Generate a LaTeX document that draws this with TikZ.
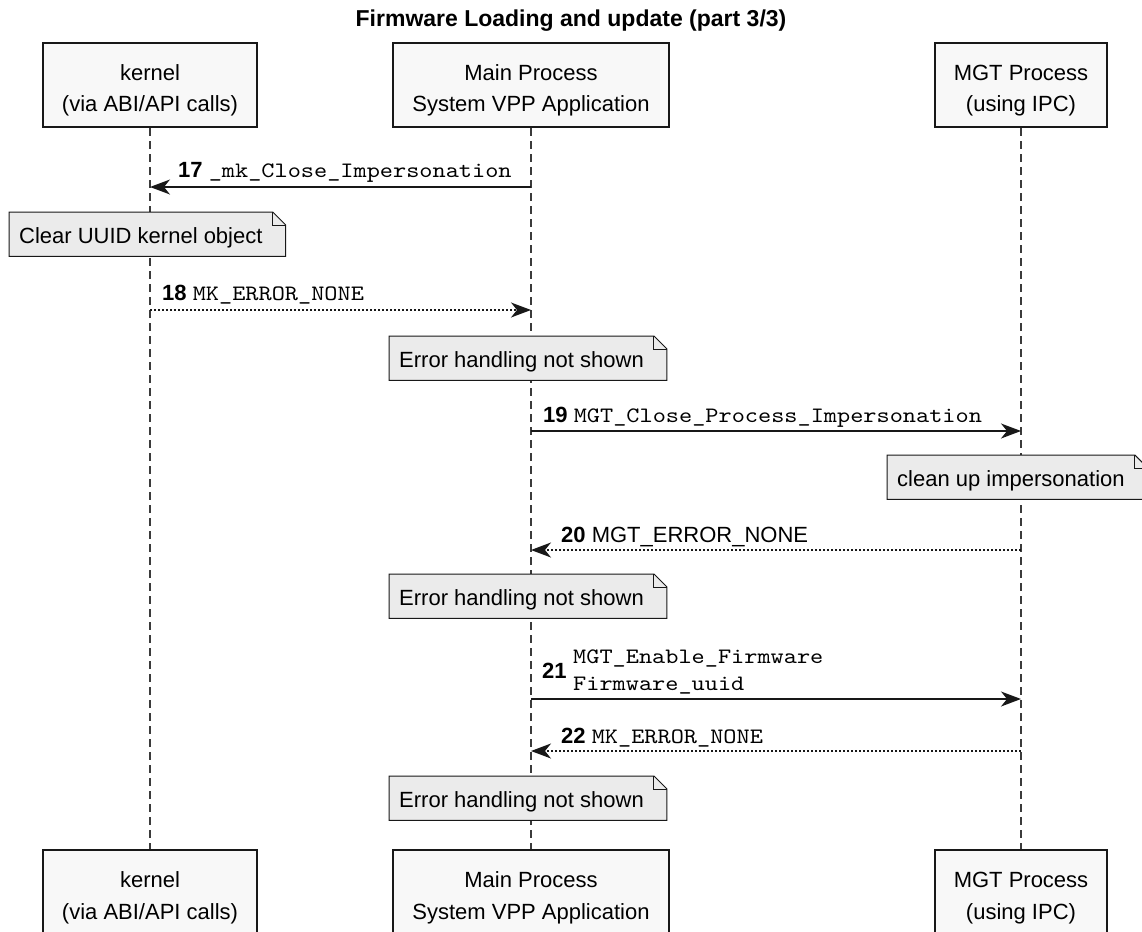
\documentclass[tikz,border=0pt]{standalone}
\usepackage{fontspec}
\setmainfont{Liberation Sans}
\newfontfamily\codefont{lmmono10-regular.otf}[FakeStretch=1.14]
\usetikzlibrary{arrows.meta}

\definecolor{ink}{HTML}{181818}
\definecolor{boxfill}{HTML}{F8F8F8}
\definecolor{notefill}{HTML}{EBEBEB}

\pgfdeclarelayer{lifelines}
\pgfdeclarelayer{notebg}
\pgfsetlayers{lifelines,notebg,main}

% two-line participant label with fixed top and bottom room
\newcommand\ptext[2]{\rule{0pt}{37pt}#1\\#2\rule[-15pt]{0pt}{15pt}}

\tikzset{
  participant/.style={draw=ink, line width=2pt, fill=boxfill, inner xsep=19pt,
    inner ysep=0pt, align=center, font=\fontsize{22}{32}\selectfont},
  lifeline/.style={draw=ink!85, line width=1.2pt, dash pattern=on 8pt off 5pt},
  notebox/.style={anchor=north west, inner xsep=0pt, inner ysep=0pt,
    text height=31pt, text depth=13pt, font=\fontsize{22}{26}\selectfont},
  noteshape/.style={draw=ink, line width=1pt, fill=notefill, line join=miter},
  call/.style={draw=ink, line width=1.5pt,
    -{Stealth[length=20pt,width=15pt,inset=6pt]}},
  reply/.style={call, dash pattern=on 1.8pt off 2.2pt},
  msglabel/.style={anchor=base west, inner sep=0pt, font=\fontsize{22}{26}\selectfont},
  codeline/.style={anchor=base west, inner sep=0pt, font=\fontsize{22}{26}\codefont},
  titletext/.style={anchor=base, inner sep=0pt, font=\fontsize{23}{28}\selectfont\bfseries},
}

% note with a folded top-right corner: name, left, top, text
\newcommand\notenode[4]{%
  \node[notebox] (#1) at (#2,#3) {\hspace*{10pt}#4\hspace*{23pt}};
  \begin{pgfonlayer}{notebg}
    \draw[noteshape] (#1.south west) -- (#1.north west)
      -- ([xshift=-13pt]#1.north east) -- ([yshift=-13pt]#1.north east)
      -- (#1.south east) -- cycle;
    \draw[draw=ink, line width=1pt] ([xshift=-13pt]#1.north east)
      -- ([xshift=-13pt,yshift=-13pt]#1.north east)
      -- ([yshift=-13pt]#1.north east);
  \end{pgfonlayer}}

\begin{document}
\begin{tikzpicture}[x=1pt, y=-1pt]
  \useasboundingbox (0,0) rectangle (1142,931);
  \clip (0,0) rectangle (1142,931);

  \node[titletext] (title) at (571,27) {Firmware Loading and update (part 3/3)};

  % participants, top and bottom
  \node[participant] (ktop) at (150,85) {\ptext{kernel}{(via ABI/API calls)}};
  \node[participant] (mtop) at (531,85) {\ptext{Main Process}{System VPP Application}};
  \node[participant] (gtop) at (1021,85) {\ptext{MGT Process}{(using IPC)}};
  \node[participant] (kbot) at (150,892) {\ptext{kernel}{(via ABI/API calls)}};
  \node[participant] (mbot) at (531,892) {\ptext{Main Process}{System VPP Application}};
  \node[participant] (gbot) at (1021,892) {\ptext{MGT Process}{(using IPC)}};

  % lifelines
  \begin{pgfonlayer}{lifelines}
    \draw[lifeline] (ktop.south) -- (kbot.north);
    \draw[lifeline] (mtop.south) -- (mbot.north);
    \draw[lifeline] (gtop.south) -- (gbot.north);
  \end{pgfonlayer}

  % message anchor points on the lifelines
  \coordinate (k17) at (150,187);  \coordinate (m17) at (531,187);
  \coordinate (k18) at (150,310);  \coordinate (m18) at (531,310);
  \coordinate (m19) at (531,431);  \coordinate (g19) at (1021,431);
  \coordinate (m20) at (531,550);  \coordinate (g20) at (1021,550);
  \coordinate (m21) at (531,699);  \coordinate (g21) at (1021,699);
  \coordinate (m22) at (531,751);  \coordinate (g22) at (1021,751);

  % 17
  \draw[call] (m17) -- (k17);
  \node[msglabel] (l17) at (178,177) {\bfseries 17 {\mdseries\codefont\_mk\_Close\_Impersonation}};
  \notenode{n1}{9}{212}{Clear UUID kernel object}

  % 18
  \draw[reply] (k18) -- (m18);
  \node[msglabel] (l18) at (162,300) {\bfseries 18 {\mdseries\codefont MK\_ERROR\_NONE}};
  \notenode{n2}{389}{336}{Error handling not shown}

  % 19
  \draw[call] (m19) -- (g19);
  \node[msglabel] (l19) at (543,422) {\bfseries 19 {\mdseries\codefont MGT\_Close\_Process\_Impersonation}};
  \notenode{n3}{887}{455}{clean up impersonation}

  % 20
  \draw[reply] (g20) -- (m20);
  \node[msglabel] (l20) at (561,542) {\bfseries 20 {\mdseries MGT\_ERROR\_NONE}};
  \notenode{n4}{389}{574}{Error handling not shown}

  % 21
  \draw[call] (m21) -- (g21);
  \node[msglabel] (l21) at (542,678) {\bfseries 21};
  \node[codeline] (l21a) at (573,663) {MGT\_Enable\_Firmware};
  \node[codeline] (l21b) at (573,690) {Firmware\_uuid};

  % 22
  \draw[reply] (g22) -- (m22);
  \node[msglabel] (l22) at (561,743) {\bfseries 22 {\mdseries\codefont MK\_ERROR\_NONE}};
  \notenode{n5}{389}{776}{Error handling not shown}
\end{tikzpicture}
\end{document}
